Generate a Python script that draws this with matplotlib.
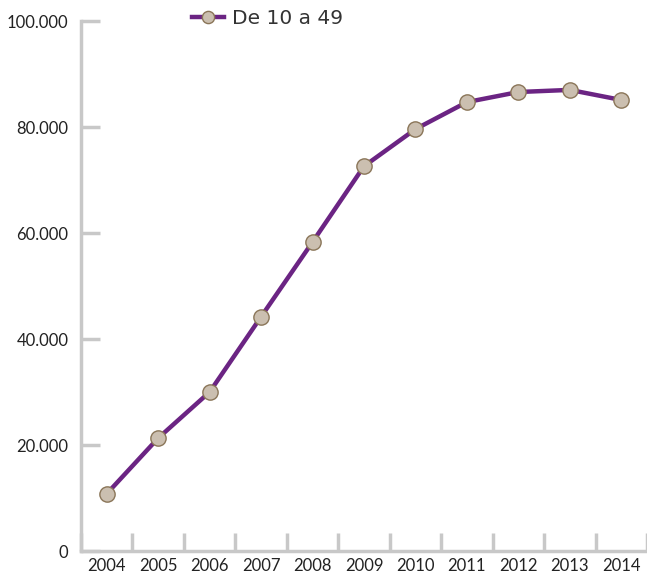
import numpy as np
import matplotlib.pyplot as plt
from matplotlib.ticker import FuncFormatter

years = ['2004', '2005', '2006', '2007', '2008', '2009', '2010', '2011', '2012', '2013', '2014']
values = [10800, 21300, 30000, 44200, 58300, 72600, 79600, 84700, 86600, 87000, 85100]
series_name = 'De 10 a 49'
y_ticks = [0, 20000, 40000, 60000, 80000, 100000]

line_color = '#6b2483'
marker_face = '#cbbfb0'
marker_edge = '#8a7558'
axis_color = '#c8c8c8'

fig = plt.figure(figsize=(6.47, 5.82), dpi=100)
ax = fig.add_axes([81 / 647, 31 / 582, 1 - 81 / 647, 530 / 582])

x = np.arange(len(years))
ax.plot(x, values, color=line_color, lw=3.2, marker='o', markersize=11,
        markerfacecolor=marker_face, markeredgecolor=marker_edge,
        markeredgewidth=1.0, label=series_name, zorder=3)

ax.set_xlim(-0.5, len(years) - 0.5)
ax.set_ylim(0, 100000)

# category boundaries as major ticks, labels on minor ticks
ax.set_xticks(np.arange(-0.5, len(years), 1.0))
ax.set_xticklabels([])
ax.set_xticks(x, minor=True)
ax.set_xticklabels(years, minor=True, fontsize=12, family='Lato', color='#222222')
ax.tick_params(axis='x', which='major', direction='in', length=13, width=2.5, color=axis_color)
ax.tick_params(axis='x', which='minor', length=0, pad=5)

ax.set_yticks(y_ticks)
ax.yaxis.set_major_formatter(FuncFormatter(lambda v, p: f'{int(v):,}'.replace(',', '.')))
ax.tick_params(axis='y', direction='in', length=14, width=2.5, color=axis_color,
               labelsize=12, pad=9, labelcolor='#222222')
for lab in ax.get_yticklabels():
    lab.set_family('Lato')

for s in ['top', 'right']:
    ax.spines[s].set_visible(False)
for s in ['left', 'bottom']:
    ax.spines[s].set_color(axis_color)
    ax.spines[s].set_linewidth(2.5)

leg = fig.legend(loc='upper left', bbox_to_anchor=(174 / 647, 1.015), frameon=False,
                 handlelength=1.6, handletextpad=0.4, markerscale=0.8,
                 prop={'family': 'DejaVu Sans', 'size': 14.5})
for t in leg.get_texts():
    t.set_color('#333333')

fig.savefig('out.png', dpi=100)
